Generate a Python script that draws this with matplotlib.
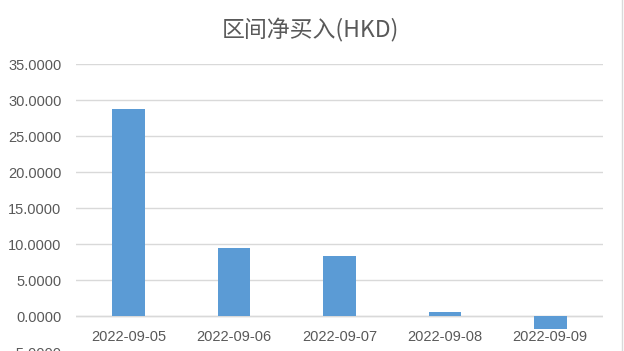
import matplotlib
matplotlib.use("Agg")
import matplotlib.pyplot as plt
from matplotlib.ticker import FormatStrFormatter

categories = ["2022-09-05", "2022-09-06", "2022-09-07", "2022-09-08", "2022-09-09"]
values = [28.75, 9.45, 8.35, 0.58, -1.75]
title = "区间净买入(HKD)"

plt.rcParams['font.family'] = ['Liberation Sans', 'Noto Sans CJK SC', 'DejaVu Sans']

W, H = 624, 351
fig = plt.figure(figsize=(W/100, H/100), dpi=100)
left, right = 76/W, 603/W
top, bottom = 1 - 64/H, 1 - 352/H
ax = fig.add_axes([left, bottom, right - left, top - bottom])

x = range(len(categories))
ax.bar(x, values, width=0.31, color="#5B9BD5", zorder=3)
ax.set_xlim(-0.5, len(categories) - 0.5)
ax.set_ylim(-5, 35)
ax.set_yticks([-5, 0, 5, 10, 15, 20, 25, 30, 35])
ax.yaxis.set_major_formatter(FormatStrFormatter('%.4f'))
ax.grid(axis='y', color="#d9d9d9", linewidth=1, zorder=0)
for s in ax.spines.values():
    s.set_visible(False)
ax.axhline(0, color="#d9d9d9", linewidth=1, zorder=2)
ax.tick_params(axis='both', length=0, colors="#595959", labelsize=10.5)
ax.tick_params(axis='y', pad=10.5)
ax.set_xticks(list(x))
ax.set_xticklabels([])
for i, c in enumerate(categories):
    ax.annotate(c, xy=(i, 0), xycoords='data', xytext=(0, -10), textcoords='offset points',
                ha='center', va='top', fontsize=10.5, color="#595959")

fig.text(310/W, 1 - 30/H, title, ha='center', va='center', fontsize=16.5, color="#595959",
         family=['Noto Sans CJK SC', 'DejaVu Sans'], fontweight='light')

fig.add_artist(plt.Line2D([621.5/W, 621.5/W], [0, 1], color="#d9d9d9", linewidth=1, transform=fig.transFigure))

fig.savefig("out.png", dpi=100)
